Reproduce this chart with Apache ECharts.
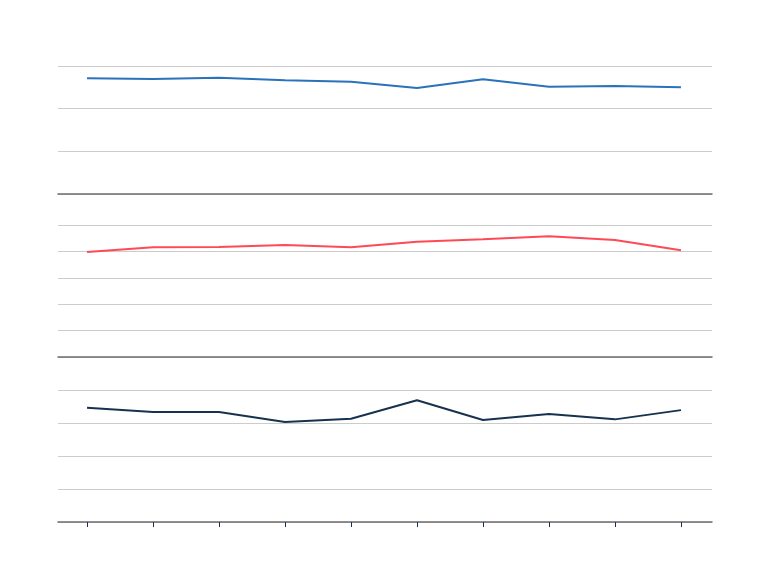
<!DOCTYPE html>
<html>
<head>
<meta charset="utf-8">
<script src="https://cdn.jsdelivr.net/npm/echarts@6/dist/echarts.min.js"></script>
<style>html,body{margin:0;padding:0;background:#fff}#c{width:768px;height:576px}</style>
</head>
<body>
<div id="c"></div>
<script>
var xValues = [0, 1, 2, 3, 4, 5, 6, 7, 8, 9];
var topSeries = [2.71, 2.695, 2.725, 2.665, 2.63, 2.485, 2.69, 2.515, 2.53, 2.50];
var midSeries = [3.98, 4.155, 4.17, 4.24, 4.155, 4.37, 4.46, 4.57, 4.43, 4.04];
var botSeries = [3.46, 3.33, 3.33, 3.03, 3.13, 3.69, 3.09, 3.27, 3.11, 3.39];

function pairs(vals) { return xValues.map(function (x, i) { return [x, vals[i]]; }); }

var chart = echarts.init(document.getElementById('c'), null, {renderer: 'canvas'});
var axisLineStyle = {color: '#6e6e6e', width: 1.5};
function xAxis(idx, ticks, showLine) {
  return {
    type: 'value', gridIndex: idx, min: -0.44, max: 9.47,
    axisLine: {show: showLine, lineStyle: axisLineStyle},
    axisTick: ticks ? {show: true, customValues: xValues, length: 5, lineStyle: {color: '#17324f', width: 1}} : {show: false},
    axisLabel: {show: false},
    splitLine: {show: false}
  };
}
function yAxis(idx, max) {
  return {
    type: 'value', gridIndex: idx, min: 0, max: max, interval: 1,
    axisLine: {show: false}, axisTick: {show: false}, axisLabel: {show: false},
    splitLine: {show: true, lineStyle: {color: '#cccccc', width: 1}}
  };
}
function line(idx, vals, color) {
  return {
    type: 'line', xAxisIndex: idx, yAxisIndex: idx, data: pairs(vals),
    symbol: 'none', lineStyle: {color: color, width: 2}, z: 5
  };
}
chart.setOption({
  animation: false,
  backgroundColor: '#ffffff',
  grid: [
    {left: 58, right: 56, top: 66, height: 128},
    {left: 58, right: 56, top: 225, height: 132},
    {left: 58, right: 56, top: 357, height: 165}
  ],
  xAxis: [xAxis(0, false, true), xAxis(1, false, true), xAxis(2, true, true)],
  yAxis: [yAxis(0, 3), yAxis(1, 5), yAxis(2, 5)],
  series: [
    line(0, topSeries, '#2a72ba'),
    line(1, midSeries, '#ff4a55'),
    line(2, botSeries, '#17324f')
  ]
});
</script>
</body>
</html>
